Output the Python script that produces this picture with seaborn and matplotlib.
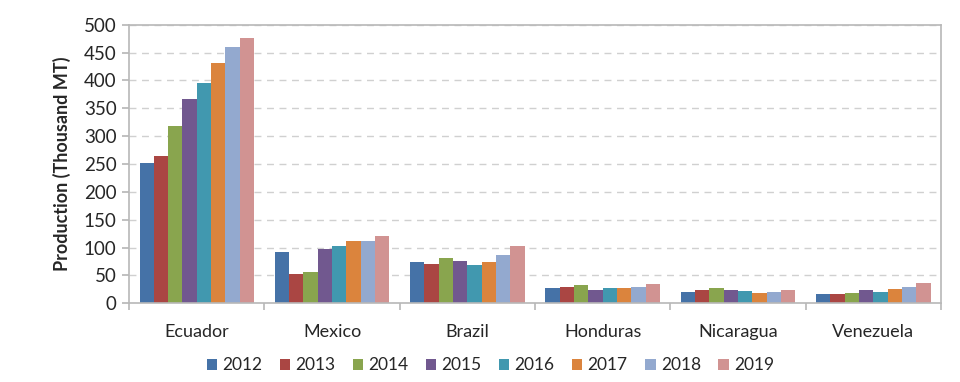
import matplotlib
matplotlib.use("Agg")
import matplotlib.pyplot as plt
import seaborn as sns
import pandas as pd
from matplotlib.ticker import FixedLocator

countries = ["Ecuador", "Mexico", "Brazil", "Honduras", "Nicaragua", "Venezuela"]
years = ["2012", "2013", "2014", "2015", "2016", "2017", "2018", "2019"]
v2012 = [251, 92, 75, 27, 21, 17]
v2013 = [264, 52, 71, 30, 24, 17]
v2014 = [318, 56, 81, 32, 28, 18]
v2015 = [367, 98, 76, 24, 23, 23]
v2016 = [395, 103, 68, 27, 22, 21]
v2017 = [431, 112, 75, 28, 18, 25]
v2018 = [460, 112, 87, 30, 21, 29]
v2019 = [477, 121, 102, 34, 23, 36]
colors = ["#4572A7", "#AA4643", "#89A54E", "#71588F", "#4198AF", "#DB843D", "#93A9CF", "#D19392"]

series = [v2012, v2013, v2014, v2015, v2016, v2017, v2018, v2019]
rows = []
for y, vals in zip(years, series):
    for c, v in zip(countries, vals):
        rows.append({"Country": c, "Year": y, "Value": v})
df = pd.DataFrame(rows)

sns.set_theme(style="white")
plt.rcParams["font.family"] = ["Lato", "DejaVu Sans"]

fig = plt.figure(figsize=(9.6, 3.82), dpi=100)
ax = fig.add_axes([0.1344, 0.206, 0.9802 - 0.1344, 0.9353 - 0.206])

sns.barplot(data=df, x="Country", y="Value", hue="Year", order=countries,
            hue_order=years, palette=colors, width=0.845, gap=0,
            saturation=1, ax=ax, errorbar=None, linewidth=0)

ax.set_ylim(0, 500)
ax.set_xlim(-0.5, len(countries) - 0.5)
ax.set_yticks(range(0, 501, 50))
ax.yaxis.grid(True, linestyle=(0, (5, 4)), color="#d0d0d0", linewidth=1)
ax.set_axisbelow(True)
for s in ax.spines.values():
    s.set_color("#b8b8b8")
    s.set_linewidth(1.2)
ax.tick_params(axis="y", which="both", left=True, length=5, color="#b8b8b8",
               labelsize=13.5, labelcolor="#262626", pad=4)
ax.tick_params(axis="x", which="major", bottom=False, labelsize=13,
               labelcolor="#262626", pad=9)
ax.xaxis.set_minor_locator(FixedLocator([i - 0.5 for i in range(len(countries) + 1)]))
ax.tick_params(axis="x", which="minor", bottom=True, length=5, color="#b8b8b8", width=1.2)
ax.set_xlabel("")
ax.set_ylabel("Production (Thousand MT)", fontsize=13, fontweight="bold", color="#262626", labelpad=9)

handles, labels = ax.get_legend_handles_labels()
ax.legend(handles, labels, loc="center", bbox_to_anchor=(0.445, -0.222),
          ncol=8, frameon=False, fontsize=12.5, handlelength=0.6, handleheight=0.6,
          handletextpad=0.3, columnspacing=1.0, labelcolor="#262626")

fig.savefig("out.png", dpi=100)
